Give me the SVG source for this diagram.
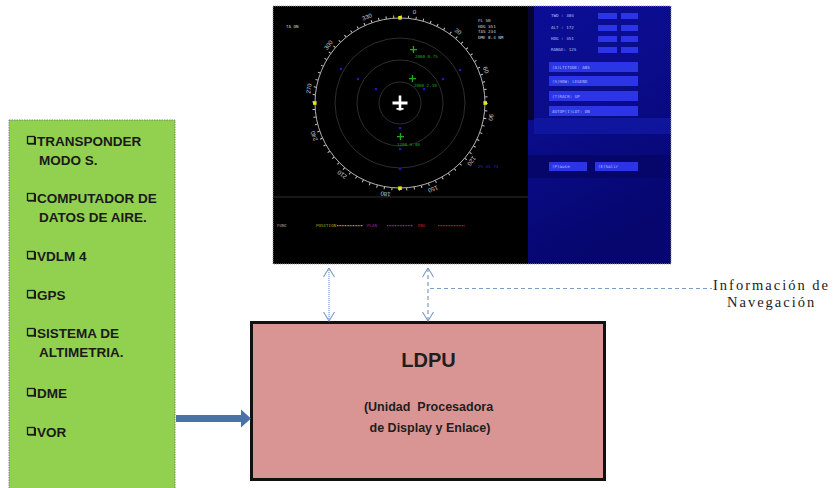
<svg xmlns="http://www.w3.org/2000/svg" width="837" height="488" viewBox="0 0 837 488">
  <defs>
    <style>
      .item { font-family: "Liberation Sans", Arial, sans-serif; font-weight: bold; font-size: 13.5px; fill: #1a1a1a; }
      .ldpu { font-family: "Liberation Sans", Arial, sans-serif; font-weight: bold; fill: #231d1d; text-anchor: middle; white-space: pre; }
      .nav { font-family: "Liberation Serif", "Times New Roman", serif; font-size: 14.5px; fill: #222; letter-spacing: 2px; }
      .tiny { font-family: "DejaVu Sans Mono", monospace; font-size: 4.2px; fill: #d8d8d8; }
      .btxt { font-family: "DejaVu Sans Mono", monospace; font-size: 4.2px; fill: #b8c0ff; }
      .comp { font-family: "Liberation Sans", Arial, sans-serif; font-size: 6px; fill: #d0d0d0; text-anchor: middle; dominant-baseline: central; }
      .btn { fill: #2b35e6; }
      .bluedot { fill: #1c1cb0; }
      .cb { fill: none; stroke: #1a1a1a; stroke-width: 1.3; }
      .cbs { fill: #1a1a1a; }
      .link { fill: none; stroke: #7a9cc8; stroke-width: 1.2; }
    </style>
    <linearGradient id="panelBg" x1="0" y1="0" x2="0.3" y2="1">
      <stop offset="0" stop-color="#0b0e96"/>
      <stop offset="0.45" stop-color="#0a0c8a"/>
      <stop offset="1" stop-color="#06066e"/>
    </linearGradient>
    <!-- open chevron head, drawn pointing along +x so orient="auto" works -->
    <marker id="openHead" viewBox="0 0 10 12" refX="9.5" refY="6" markerWidth="10" markerHeight="12" markerUnits="userSpaceOnUse" orient="auto-start-reverse">
      <path d="M0.5,0.5 L9.5,6 L0.5,11.5" fill="none" stroke="#7a9cc8" stroke-width="1.1"/>
    </marker>
  </defs>

  <rect width="837" height="488" fill="#ffffff"/>

  <!-- Cockpit display screen -->
  <g id="display">
    <rect x="273" y="6" width="256" height="258" fill="#000"/>
    <!-- right hand control panel -->
    <rect x="528" y="6" width="143" height="258" fill="url(#panelBg)"/>
    <rect x="528" y="6" width="6" height="114" fill="#05052e"/>
    <rect x="534" y="118" width="137" height="16" fill="#1219a8" opacity="0.7"/>
    <rect x="528" y="155" width="143" height="23" fill="#05056a"/>
    <rect x="273" y="6" width="398" height="258" fill="none" stroke="#9a9a9a" stroke-width="1" stroke-dasharray="1 1"/>

    <!-- radar rings -->
    <g transform="translate(400 103)">
      <circle r="21" fill="none" stroke="#3a3a3a" stroke-width="0.8"/>
      <circle r="43" fill="none" stroke="#3a3a3a" stroke-width="0.8"/>
      <circle r="65" fill="none" stroke="#3a3a3a" stroke-width="0.8"/>
      <circle r="85" fill="none" stroke="#c8c8c8" stroke-width="0.9"/>
      <circle r="86.5" fill="none" stroke="#c8c8c8" stroke-width="2.4" stroke-dasharray="1 6.548"/>
      <rect x="-1.8" y="-87" width="3.6" height="3.6" fill="#e6e620"/>
      <rect x="-1.8" y="83.4" width="3.6" height="3.6" fill="#e6e620"/>
      <rect x="83.4" y="-1.8" width="3.6" height="3.6" fill="#e6e620"/>
      <rect x="-87" y="-1.8" width="3.6" height="3.6" fill="#e6e620"/>
      <!-- own aircraft -->
      <rect x="-7.5" y="-1.5" width="15" height="3" fill="#fff"/>
      <rect x="-1.3" y="-7.5" width="2.6" height="15" fill="#fff"/>
      <rect x="-3.5" y="5" width="7" height="1.8" fill="#fff"/>
    </g>

    <!-- compass labels -->
    <text class="comp" x="414.4" y="12.1" transform="rotate(9 414.4 12.1)">0</text>
    <text class="comp" x="457.9" y="31.5" transform="rotate(39 457.9 31.5)">30</text>
    <text class="comp" x="485.9" y="70" transform="rotate(69 485.9 70)">60</text>
    <text class="comp" x="490.9" y="117.4" transform="rotate(99 490.9 117.4)">90</text>
    <text class="comp" x="471.5" y="160.9" transform="rotate(129 471.5 160.9)">120</text>
    <text class="comp" x="433" y="188.9" transform="rotate(159 433 188.9)">150</text>
    <text class="comp" x="385.6" y="193.9" transform="rotate(189 385.6 193.9)">180</text>
    <text class="comp" x="342.1" y="174.5" transform="rotate(219 342.1 174.5)">210</text>
    <text class="comp" x="314.1" y="136" transform="rotate(249 314.1 136)">240</text>
    <text class="comp" x="309.1" y="88.6" transform="rotate(279 309.1 88.6)">270</text>
    <text class="comp" x="328.5" y="45.1" transform="rotate(309 328.5 45.1)">300</text>
    <text class="comp" x="367" y="17.1" transform="rotate(339 367 17.1)">330</text>

    <!-- traffic -->
    <g fill="#22a822">
      <rect x="410" y="49" width="7" height="1.3"/><rect x="412.8" y="46" width="1.3" height="7"/>
      <rect x="409" y="78" width="7" height="1.3"/><rect x="411.8" y="75" width="1.3" height="7"/>
      <rect x="397" y="136" width="7" height="1.3"/><rect x="399.8" y="133" width="1.3" height="7"/>
    </g>
    <text class="tiny" x="415" y="58" style="fill:#22a822">2000 0.75</text>
    <text class="tiny" x="414" y="87" style="fill:#22a822">2000 2.10</text>
    <text class="tiny" x="397" y="146" style="fill:#22a822">1200 3.40</text>
    <circle class="bluedot" cx="341" cy="69" r="1.3"/>
    <circle class="bluedot" cx="358" cy="79" r="1.3"/>
    <circle class="bluedot" cx="376" cy="89" r="1.3"/>
    <circle class="bluedot" cx="460" cy="70" r="1.3"/>
    <circle class="bluedot" cx="443" cy="79" r="1.3"/>
    <circle class="bluedot" cx="424" cy="89" r="1.3"/>
    <circle class="bluedot" cx="400" cy="128" r="1.3"/>
    <circle class="bluedot" cx="400" cy="149" r="1.3"/>
    <circle class="bluedot" cx="400" cy="169" r="1.3"/>
    <text class="tiny" x="478" y="168" style="fill:#2a2ac8">25 33 74</text>

    <text class="tiny" x="286" y="28">TA ON</text>
    <text class="tiny" x="478" y="22">FL  50</text>
    <text class="tiny" x="478" y="27.5">HDG 351</text>
    <text class="tiny" x="478" y="33">TAS 234</text>
    <text class="tiny" x="478" y="38.5">DME 8.4 NM</text>

    <line x1="273" y1="197" x2="528" y2="197" stroke="#2e2e2e" stroke-width="1"/>
    <text class="tiny" x="277" y="227" style="fill:#a8a8a8">FUNC</text>
    <text class="tiny" x="316" y="227" style="fill:#a8a820">POSITION</text>
    <line x1="337" y1="225.6" x2="363" y2="225.6" stroke="#a8a820" stroke-width="1.2" stroke-dasharray="1 0.6"/>
    <text class="tiny" x="367" y="227" style="fill:#a020a8">PLAN</text>
    <line x1="387" y1="225.6" x2="413" y2="225.6" stroke="#a020a8" stroke-width="1.2" stroke-dasharray="1 0.6"/>
    <text class="tiny" x="418" y="227" style="fill:#c02020">RNG</text>
    <line x1="438" y1="225.6" x2="465" y2="225.6" stroke="#c02020" stroke-width="1.2" stroke-dasharray="1 0.6"/>

    <!-- panel readouts -->
    <text class="btxt" x="551" y="17">TWD : 304</text>
    <text class="btxt" x="551" y="29">ALT : 172</text>
    <text class="btxt" x="551" y="40">HDG : 351</text>
    <text class="btxt" x="551" y="51">RANGE: 125</text>
    <rect class="btn" x="598" y="13" width="19" height="6"/><rect class="btn" x="621" y="13" width="17" height="6"/>
    <rect class="btn" x="598" y="25" width="19" height="6"/><rect class="btn" x="621" y="25" width="17" height="6"/>
    <rect class="btn" x="598" y="36" width="19" height="6"/><rect class="btn" x="621" y="36" width="17" height="6"/>
    <rect class="btn" x="598" y="47" width="19" height="6"/><rect class="btn" x="621" y="47" width="17" height="6"/>
    <rect class="btn" x="549" y="62" width="89" height="10"/>
    <rect class="btn" x="549" y="76" width="89" height="10"/>
    <rect class="btn" x="549" y="91" width="89" height="10"/>
    <rect class="btn" x="549" y="106" width="89" height="10"/>
    <text class="btxt" x="552" y="68.5">(A)LTITUDE: ABS</text>
    <text class="btxt" x="552" y="82.5">(S)HOW: LEGEND</text>
    <text class="btxt" x="552" y="97.5">(T)RACK: UP</text>
    <text class="btxt" x="552" y="112.5">AUTOP(I)LOT: ON</text>
    <rect class="btn" x="549" y="162" width="38" height="9"/>
    <rect class="btn" x="595" y="162" width="43" height="9"/>
    <text class="btxt" x="552" y="168">(P)ause</text>
    <text class="btxt" x="598" y="168">(E)Salir</text>
  </g>

  <!-- Aircraft data sources -->
  <g id="sources">
    <rect x="9" y="120" width="166" height="372" fill="#92d050" stroke="#6a6a6a" stroke-width="0.8" stroke-dasharray="1.5 1"/>
    <g id="cb-marks">
      <rect class="cb" x="27.5" y="136.5" width="7" height="7"/><rect class="cbs" x="28" y="143" width="8" height="1.6"/><rect class="cbs" x="34.4" y="137" width="1.6" height="7.6"/>
      <rect class="cb" x="27.5" y="193.5" width="7" height="7"/><rect class="cbs" x="28" y="200" width="8" height="1.6"/><rect class="cbs" x="34.4" y="194" width="1.6" height="7.6"/>
      <rect class="cb" x="27.5" y="251.5" width="7" height="7"/><rect class="cbs" x="28" y="258" width="8" height="1.6"/><rect class="cbs" x="34.4" y="252" width="1.6" height="7.6"/>
      <rect class="cb" x="27.5" y="290.5" width="7" height="7"/><rect class="cbs" x="28" y="297" width="8" height="1.6"/><rect class="cbs" x="34.4" y="291" width="1.6" height="7.6"/>
      <rect class="cb" x="27.5" y="328.5" width="7" height="7"/><rect class="cbs" x="28" y="335" width="8" height="1.6"/><rect class="cbs" x="34.4" y="329" width="1.6" height="7.6"/>
      <rect class="cb" x="27.5" y="388.5" width="7" height="7"/><rect class="cbs" x="28" y="395" width="8" height="1.6"/><rect class="cbs" x="34.4" y="389" width="1.6" height="7.6"/>
      <rect class="cb" x="27.5" y="427.5" width="7" height="7"/><rect class="cbs" x="28" y="434" width="8" height="1.6"/><rect class="cbs" x="34.4" y="428" width="1.6" height="7.6"/>
    </g>
    <text class="item" x="37" y="146">TRANSPONDER</text>
    <text class="item" x="39" y="165">MODO S.</text>
    <text class="item" x="37" y="203">COMPUTADOR DE</text>
    <text class="item" x="39" y="222">DATOS DE AIRE.</text>
    <text class="item" x="37" y="261">VDLM 4</text>
    <text class="item" x="37" y="300">GPS</text>
    <text class="item" x="37" y="338">SISTEMA DE</text>
    <text class="item" x="39" y="357">ALTIMETRIA.</text>
    <text class="item" x="37" y="398">DME</text>
    <text class="item" x="37" y="437">VOR</text>
  </g>

  <!-- Display and link processing unit -->
  <g id="ldpu">
    <rect x="251.5" y="322.5" width="353" height="157" fill="#d99594" stroke="#111" stroke-width="3"/>
    <text class="ldpu" x="428.5" y="367" font-size="20">LDPU</text>
    <text class="ldpu" x="428.5" y="411" font-size="12.5">(Unidad  Procesadora</text>
    <text class="ldpu" x="430" y="432" font-size="12.5">de Display y Enlace)</text>
  </g>

  <!-- Navigation information label -->
  <g id="nav-info">
    <text class="nav" x="713" y="290">Información de</text>
    <text class="nav" x="727" y="307">Navegación</text>
  </g>

  <!-- Connectors -->
  <g id="connectors">
    <line x1="176" y1="418.5" x2="243" y2="418.5" stroke="#4a72a8" stroke-width="7"/>
    <path d="M241,409.5 L251,418.5 L241,427.5 Z" fill="#4a72a8"/>
    <line class="link" x1="329" y1="268" x2="329" y2="321" stroke-dasharray="1 1" marker-start="url(#openHead)" marker-end="url(#openHead)"/>
    <line class="link" x1="428" y1="268" x2="428" y2="321" stroke-dasharray="4 3" marker-start="url(#openHead)" marker-end="url(#openHead)"/>
    <line class="link" x1="430" y1="288.5" x2="712" y2="288.5" stroke-dasharray="4 3"/>
  </g>
</svg>
